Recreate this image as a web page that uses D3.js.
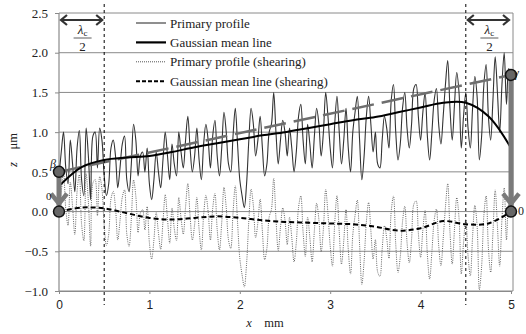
<!DOCTYPE html>
<html lang="en">
<head>
  <meta charset="UTF-8">
  <script src="https://d3js.org/d3.v7.min.js"></script>
  <title>Primary profile and shearing</title>
  <style>
    body { margin: 0; background: #fff; overflow: hidden; }
    text { font-family: "Liberation Serif", "DejaVu Serif", serif; fill: #222; }
    .xtick { font-family: "Liberation Sans", Arial, sans-serif; }
  </style>
</head>
<body>
<script>
  // x step for the primary profile (mm)
  const profileStep = 0.025;

  // Primary profile, z in um (x = 0 ... 5 mm)
  const primaryProfile = [
    0.45, 0.75, 1.0, 0.55, 0.35, 0.9, 0.6, 0.25, 0.8, 1.02, 0.4, 0.2, 1.05, 0.7, 0.15, 0.95, 1.0, 0.55, 1.05, 0.9,
    0.45, 0.2, 0.35, 0.8, 0.9, 0.7, 0.3, 0.55, 0.85, 0.95, 0.4, 0.25, 0.6, 1.1, 0.9, 0.45, 0.7, 0.75, 0.5, 0.8,
    0.35, 0.15, 0.4, 0.75, 0.5, 0.3, 0.65, 1.0, 0.7, 0.4, 0.85, 0.6, 0.45, 1.0, 0.75, 0.55, 0.9, 1.2, 0.8, 0.5,
    0.7, 1.05, 0.65, 0.4, 0.85, 1.1, 0.9, 0.55, 0.95, 1.15, 0.7, 0.45, 0.8, 1.25, 1.0, 0.6, 0.5, 0.95, 1.3, 0.85,
    0.4, 0.2, 0.05, 0.35, 0.9, 1.3, 1.1, 0.7, 0.9, 1.2, 0.8, 0.45, 0.6, 1.0, 1.1, 1.5, 1.0, 0.6, 0.9, 1.15,
    1.0, 0.7, 1.05, 0.8, 0.5, 0.75, 1.2, 1.35, 0.9, 0.6, 1.1, 0.85, 0.55, 0.95, 1.3, 1.1, 0.7, 1.0, 1.5, 1.2,
    0.8, 0.55, 1.1, 1.45, 1.0, 0.6, 0.9, 1.3, 0.8, 0.5, 1.0, 1.25, 1.45, 0.9, 0.4, 0.7, 1.2, 1.45, 1.1, 0.75,
    1.0, 0.6, 0.55, 0.9, 1.2, 1.05, 0.8, 1.4, 1.6, 1.0, 0.65, 0.85, 1.3, 1.5, 1.05, 0.8, 1.1, 1.55, 1.6, 1.2,
    0.9, 1.25, 1.5, 0.95, 0.65, 1.0, 1.4, 1.55, 1.1, 0.85, 1.2, 1.6, 1.9, 1.3, 0.9, 1.35, 1.75, 1.5, 0.8, 1.2,
    1.5, 1.05, 0.8, 1.3, 1.7, 1.45, 0.65, 0.95, 1.6, 1.85, 1.2, 0.9, 1.4, 1.95, 1.5, 1.0, 1.6, 2.0, 1.35, 1.8, 1.72
  ];

  // Gaussian mean lines, every 0.25 mm
  const meanX = [0, 0.25, 0.5, 0.75, 1, 1.25, 1.5, 1.75, 2, 2.25, 2.5, 2.75, 3, 3.25, 3.5, 3.75, 4, 4.25, 4.5, 4.75, 5];
  const gaussMean = [0.32, 0.56, 0.65, 0.68, 0.7, 0.75, 0.81, 0.86, 0.91, 0.96, 1.0, 1.05, 1.1, 1.15, 1.19, 1.25, 1.31, 1.37, 1.37, 1.2, 0.8];
  const gaussMeanShear = [0.0, 0.05, 0.04, -0.02, -0.08, -0.1, -0.08, -0.06, -0.08, -0.11, -0.13, -0.14, -0.15, -0.16, -0.19, -0.24, -0.21, -0.12, -0.16, -0.15, 0.0];

  // end points of the shearing (tilt) line: beta at x=0, gamma at x=5
  const beta = 0.5, gamma = 1.72;
  const lambdaHalf = 0.5;

  const yTicks = [-1.0, -0.5, 0.0, 0.5, 1.0, 1.5, 2.0, 2.5];
  const xTicks = [0, 1, 2, 3, 4, 5];
  const legendLabels = ["Primary profile", "Gaussian mean line", "Primary profile (shearing)", "Gaussian mean line (shearing)"];

  const width = 526, height = 334;
  const svg = d3.select("body").append("svg").attr("width", width).attr("height", height);

  const x = d3.scaleLinear().domain([0, 5]).range([59, 511]);
  const y = d3.scaleLinear().domain([-1, 2.5]).range([291, 13]);

  const gray = "#8a8a8a";

  // grid + frame
  svg.append("g").selectAll("line").data(yTicks).enter().append("line")
    .attr("x1", x(0)).attr("x2", 513)
    .attr("y1", d => y(d)).attr("y2", d => y(d))
    .attr("stroke", gray).attr("stroke-width", 1);
  svg.append("line").attr("x1", x(0)).attr("x2", x(0)).attr("y1", y(2.5)).attr("y2", y(-1))
    .attr("stroke", gray).attr("stroke-width", 1.2);
  svg.append("line").attr("x1", 513).attr("x2", 513).attr("y1", y(2.5)).attr("y2", y(-1))
    .attr("stroke", gray).attr("stroke-width", 1);

  // axes
  const yAxis = svg.append("g").attr("transform", `translate(${x(0)},0)`)
    .call(d3.axisLeft(y).tickValues(yTicks).tickFormat(d3.format(".1f")).tickSize(4).tickPadding(7));
  yAxis.select(".domain").remove();
  yAxis.selectAll("line").attr("stroke", gray);
  yAxis.selectAll("text").attr("font-size", 13).style("font-family", "'Liberation Serif', serif").attr("fill", "#222");

  const xAxis = svg.append("g").attr("transform", `translate(0,${y(-1)})`)
    .call(d3.axisBottom(x).tickValues(xTicks).tickFormat(d3.format("d")).tickSize(3).tickPadding(6));
  xAxis.select(".domain").attr("stroke", gray);
  xAxis.selectAll("line").attr("stroke", gray);
  xAxis.selectAll("text").attr("class", "xtick").attr("font-size", 12).attr("fill", "#222");

  // axis titles
  const xt = svg.append("text").attr("x", 265).attr("y", 327).attr("text-anchor", "middle").attr("font-size", 12.5);
  xt.append("tspan").attr("font-style", "italic").text("x");
  xt.append("tspan").text("\u2003mm");
  const yt = svg.append("text").attr("transform", "translate(17,150) rotate(-90)").attr("text-anchor", "middle").attr("font-size", 12.5);
  yt.append("tspan").attr("font-style", "italic").text("z");
  yt.append("tspan").text("\u2003\u03bcm");

  // series
  const profilePts = primaryProfile.map((v, i) => [i * profileStep, v]);
  const tilt = xv => beta + (gamma - beta) * xv / 5;
  const shearPts = profilePts.map(p => [p[0], p[1] - tilt(p[0])]);

  const smooth = d3.line().x(d => x(d[0])).y(d => y(d[1])).curve(d3.curveCatmullRom.alpha(0.5));

  svg.append("path").datum(shearPts).attr("d", smooth)
    .attr("fill", "none").attr("stroke", "#666").attr("stroke-width", 1).attr("stroke-dasharray", "1,1.2");
  svg.append("path").datum(profilePts).attr("d", smooth)
    .attr("fill", "none").attr("stroke", "#333").attr("stroke-width", 1.1);

  // tilt line beta -> gamma
  svg.append("line").attr("x1", x(0)).attr("y1", y(beta)).attr("x2", x(5)).attr("y2", y(gamma))
    .attr("stroke", "#6e6e6e").attr("stroke-width", 2.5).attr("stroke-dasharray", "22,8");

  svg.append("path").datum(meanX.map((v, i) => [v, gaussMean[i]])).attr("d", smooth)
    .attr("fill", "none").attr("stroke", "#000").attr("stroke-width", 2);
  svg.append("path").datum(meanX.map((v, i) => [v, gaussMeanShear[i]])).attr("d", smooth)
    .attr("fill", "none").attr("stroke", "#000").attr("stroke-width", 2).attr("stroke-dasharray", "5,3");

  // lambda_c / 2 limits
  [lambdaHalf, 5 - lambdaHalf].forEach(v => {
    svg.append("line").attr("x1", x(v)).attr("x2", x(v)).attr("y1", 4).attr("y2", 305)
      .attr("stroke", "#000").attr("stroke-width", 1).attr("stroke-dasharray", "3,3");
  });
  [[0, lambdaHalf], [5 - lambdaHalf, 5]].forEach(([a, b]) => {
    const x1 = x(a) + 1, x2 = x(b) - 1, yy = 20;
    svg.append("line").attr("x1", x1 + 2).attr("x2", x2 - 2).attr("y1", yy).attr("y2", yy)
      .attr("stroke", "#333").attr("stroke-width", 2.2);
    svg.append("polyline").attr("points", `${x1 + 7},${yy - 5} ${x1 + 1},${yy} ${x1 + 7},${yy + 5}`)
      .attr("fill", "none").attr("stroke", "#333").attr("stroke-width", 2.2);
    svg.append("polyline").attr("points", `${x2 - 7},${yy - 5} ${x2 - 1},${yy} ${x2 - 7},${yy + 5}`)
      .attr("fill", "none").attr("stroke", "#333").attr("stroke-width", 2.2);
    const cx = (x(a) + x(b)) / 2 + 1;
    const lt = svg.append("text").attr("x", cx).attr("y", 34).attr("text-anchor", "middle").attr("font-size", 13);
    lt.append("tspan").attr("font-style", "italic").text("\u03bb");
    lt.append("tspan").attr("font-size", 9).attr("dy", 2).text("c");
    svg.append("line").attr("x1", cx - 9).attr("x2", cx + 9).attr("y1", 38).attr("y2", 38)
      .attr("stroke", "#333").attr("stroke-width", 0.8);
    svg.append("text").attr("x", cx).attr("y", 51).attr("text-anchor", "middle").attr("font-size", 13).text("2");
  });

  // grey shifting arrows
  [[0, beta], [5, gamma]].forEach(([xv, top]) => {
    const xx = x(xv), y0 = y(0);
    svg.append("line").attr("x1", xx).attr("x2", xx).attr("y1", y(top)).attr("y2", y0 - 6)
      .attr("stroke", "#7a7a7a").attr("stroke-width", 5);
    svg.append("polyline").attr("points", `${xx - 8},${y0 - 18} ${xx},${y0 - 8} ${xx + 8},${y0 - 18}`)
      .attr("fill", "none").attr("stroke", "#7a7a7a").attr("stroke-width", 4.5);
  });

  // marker points
  svg.append("g").selectAll("circle").data([[0, beta], [0, 0], [5, gamma], [5, 0]]).enter().append("circle")
    .attr("cx", d => x(d[0])).attr("cy", d => y(d[1])).attr("r", 5.5)
    .attr("fill", "#666").attr("stroke", "#111").attr("stroke-width", 1.5);

  svg.append("text").attr("x", 50).attr("y", 168).attr("font-size", 12).attr("font-style", "italic").text("\u03b2");
  svg.append("text").attr("x", 514).attr("y", 77).attr("font-size", 12).attr("font-style", "italic").text("\u03b3");
  svg.append("text").attr("x", 46).attr("y", 200).attr("font-size", 11).text("0");
  svg.append("text").attr("x", 518).attr("y", 215).attr("font-size", 12).text("0");

  // legend
  const legendStyles = [
    { w: 1.1, c: "#333", dash: null },
    { w: 2.2, c: "#000", dash: null },
    { w: 1, c: "#555", dash: "1,1" },
    { w: 2, c: "#000", dash: "4,2" }
  ];
  const lg = svg.append("g").selectAll("g").data(legendLabels).enter().append("g")
    .attr("transform", (d, i) => `translate(0,${23 + i * 19.4})`);
  lg.append("line").attr("x1", 136).attr("x2", 166).attr("y1", 0).attr("y2", 0)
    .attr("stroke", (d, i) => legendStyles[i].c)
    .attr("stroke-width", (d, i) => legendStyles[i].w)
    .attr("stroke-dasharray", (d, i) => legendStyles[i].dash);
  lg.append("text").attr("x", 170).attr("y", 4.5).attr("font-size", 13).text(d => d);
</script>
</body>
</html>
